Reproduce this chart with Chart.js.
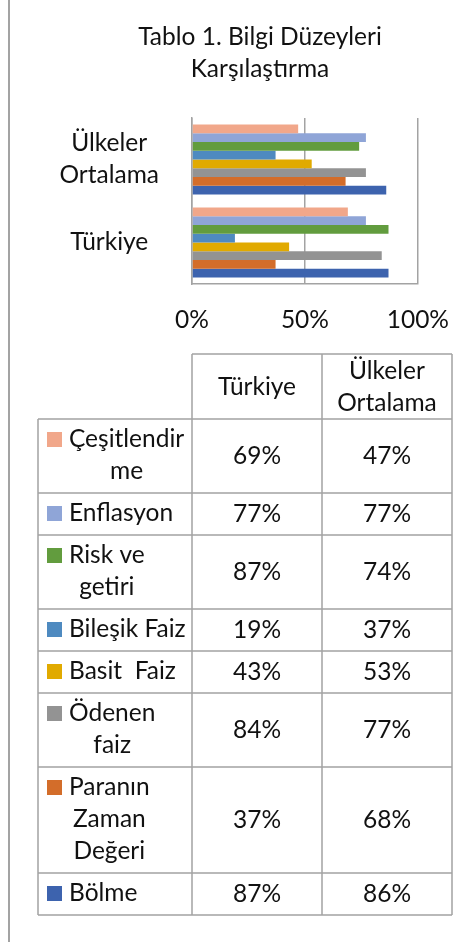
<!DOCTYPE html>
<html>
<head>
<meta charset="utf-8">
<script src="https://cdn.jsdelivr.net/npm/chart.js@4.4.1/dist/chart.umd.min.js"></script>
<style>
  html, body { margin: 0; padding: 0; background: #fff; }
</style>
</head>
<body>
<canvas id="myChart" width="470" height="942"></canvas>
<script>
// data, top to bottom as the bars are stacked in each group
var categories = ['Ülkeler Ortalama', 'Türkiye'];
var seriesNames = ['Çeşitlendirme', 'Enflasyon', 'Risk ve getiri', 'Bileşik Faiz', 'Basit  Faiz', 'Ödenen faiz', 'Paranın Zaman Değeri', 'Bölme'];
var tableLabels = [['Çeşitlendir', 'me'], ['Enflasyon'], ['Risk ve', 'getiri'], ['Bileşik Faiz'], ['Basit  Faiz'], ['Ödenen', 'faiz'], ['Paranın', 'Zaman', 'Değeri'], ['Bölme']];
var turkiye = [69, 77, 87, 19, 43, 84, 37, 87];
var ulkeler = [47, 77, 74, 37, 53, 77, 68, 86];
var tickValues = [0, 50, 100];
var titleLines = ['Tablo 1. Bilgi Düzeyleri', 'Karşılaştırma'];

var colors = ['#F1A78A', '#8FA5D7', '#629C3E', '#4E8AC0', '#E1AA00', '#939393', '#D36D2A', '#3D63AE'];
var FONT = 'Lato, "Noto Sans", sans-serif';
var FSIZE = 24.5;
var lineCol = '#A3A3A3';
var textCol = '#111';

// table columns are in the sheet order (Türkiye first)
var tableCols = [categories[1], categories[0]];
var tableVals = [turkiye, ulkeler];

var pct = function(v) { return v + '%'; };

var extras = {
  id: 'extras',
  beforeDraw: function(chart) {
    var ctx = chart.ctx;
    ctx.save();
    ctx.strokeStyle = lineCol;
    ctx.lineWidth = 2;
    ctx.beginPath();
    ctx.moveTo(9, 0);
    ctx.lineTo(9, chart.height);
    ctx.stroke();
    ctx.restore();
  },
  afterDraw: function(chart) {
    var ctx = chart.ctx;
    var area = chart.chartArea;
    ctx.save();
    ctx.fillStyle = textCol;
    ctx.font = FSIZE + 'px ' + FONT;
    ctx.textBaseline = 'alphabetic';

    // title
    ctx.textAlign = 'center';
    titleLines.forEach(function(t, i) {
      ctx.fillText(t, 260, 45 + i * 32);
    });

    // data table
    var colX = area.left;
    var colW = 130;
    var leftX = 38;
    var top = 354;
    var headH = 65;
    var rows = [];
    var y = top + headH;
    tableLabels.forEach(function(lines) {
      var h = lines.length * 32 + 10;
      rows.push({ y: y, h: h });
      y += h;
    });
    var bottom = y;

    ctx.strokeStyle = lineCol;
    ctx.lineWidth = 1.5;
    ctx.beginPath();
    ctx.moveTo(colX, top); ctx.lineTo(colX + colW * 2, top);
    rows.forEach(function(r) {
      ctx.moveTo(leftX, r.y); ctx.lineTo(colX + colW * 2, r.y);
    });
    ctx.moveTo(leftX, bottom); ctx.lineTo(colX + colW * 2, bottom);
    ctx.moveTo(leftX, top + headH); ctx.lineTo(leftX, bottom);
    for (var c = 0; c <= 2; c++) {
      ctx.moveTo(colX + colW * c, top); ctx.lineTo(colX + colW * c, bottom);
    }
    ctx.stroke();

    // header
    ctx.textAlign = 'center';
    tableCols.forEach(function(name, c) {
      var parts = name.split(' ');
      var cx = colX + colW * c + colW / 2;
      var mid = top + headH / 2 + 8;
      parts.forEach(function(p, i) {
        ctx.fillText(p, cx, mid + (i - (parts.length - 1) / 2) * 32);
      });
    });

    // rows
    rows.forEach(function(r, i) {
      var lines = tableLabels[i];
      var w = 0;
      lines.forEach(function(l) { w = Math.max(w, ctx.measureText(l).width); });
      var base = r.y + 28;
      ctx.fillStyle = colors[i];
      ctx.fillRect(47, base - 15, 15, 15);
      ctx.fillStyle = textCol;
      ctx.textAlign = 'center';
      lines.forEach(function(l, k) {
        ctx.fillText(l, 69 + w / 2, base + k * 32);
      });
      var mid = r.y + r.h / 2 + 7.5;
      tableVals.forEach(function(vals, c) {
        ctx.fillText(pct(vals[i]), colX + colW * c + colW / 2, mid);
      });
    });
    ctx.restore();
  }
};

var datasets = seriesNames.map(function(name, i) {
  return {
    label: name,
    data: [ulkeler[i], turkiye[i]],
    backgroundColor: colors[i],
    borderWidth: 0
  };
});

var ctx = document.getElementById('myChart').getContext('2d');
var myChart = new Chart(ctx, {
  type: 'bar',
  data: { labels: categories, datasets: datasets },
  plugins: [extras],
  options: {
    responsive: false,
    animation: false,
    devicePixelRatio: 1,
    indexAxis: 'y',
    layout: { padding: { top: 118, left: 50, right: 48, bottom: 598 } },
    datasets: { bar: { barPercentage: 1, categoryPercentage: 0.843 } },
    plugins: {
      legend: { display: false },
      title: { display: false },
      tooltip: { enabled: false }
    },
    scales: {
      x: {
        min: 0,
        max: 100,
        afterBuildTicks: function(scale) {
          scale.ticks = tickValues.map(function(v) { return { value: v }; });
        },
        afterFit: function(scale) { scale.height = 60; },
        grid: { color: lineCol, lineWidth: 1.5, drawTicks: false },
        border: { display: true, color: lineCol, width: 1.5 },
        ticks: {
          padding: 21,
          color: textCol,
          font: { family: FONT, size: FSIZE },
          callback: function(v) { return pct(v); }
        }
      },
      y: {
        afterFit: function(scale) { scale.width = 142; },
        grid: { display: false },
        border: { display: true, color: lineCol, width: 1.5 },
        ticks: {
          crossAlign: 'center',
          padding: 25,
          color: textCol,
          font: { family: FONT, size: FSIZE, lineHeight: 1.3 },
          callback: function(v, i) { return categories[i].split(' '); }
        }
      }
    }
  }
});
</script>
</body>
</html>
